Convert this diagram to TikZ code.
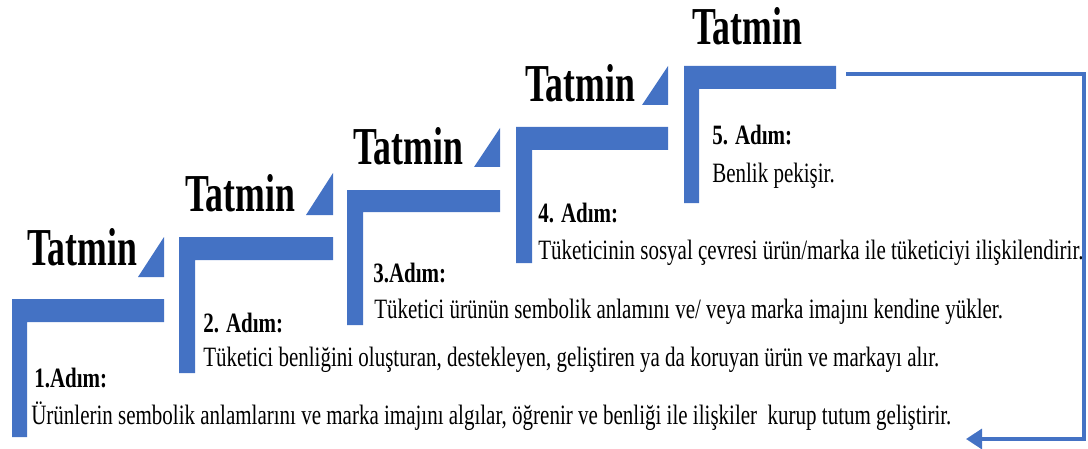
\documentclass[tikz,border=0pt]{standalone}
\usepackage{fontspec}
\setmainfont{Liberation Serif}[FakeStretch=0.75]
\newfontfamily\tatminfont{Liberation Serif}[FakeStretch=0.67]
\usetikzlibrary{arrows.meta}
\definecolor{adimmavi}{HTML}{4472C4}

\begin{document}
\begin{tikzpicture}[x=0.75pt,y=-0.75pt,line join=miter,>={Triangle[length=12pt,width=15pt]}]
	\tikzset{tatmin/.style={anchor=base west,inner sep=0pt,font=\tatminfont\bfseries\fontsize{40}{40}\selectfont},
		baslik/.style={anchor=base west,inner sep=0pt,font=\bfseries\fontsize{21}{21}\selectfont},
		aciklama/.style={anchor=base west,inner sep=0pt,font=\fontsize{21}{21}\selectfont},
		basamak/.style={fill=adimmavi}}
	\useasboundingbox (0,0) rectangle (1088,449);
	% basamak 1
	\fill[basamak] (12,299)--(164,299)--(164,322)--(27,322)--(27,437)--(12,437)--cycle;
	\fill[basamak] (164,237)--(164,277)--(138,277)--cycle;
	\node[tatmin] (t1) at (27,265) {Tatmin};
	\node[baslik] (a1) at (34,387) {1.Adım:};
	\node[aciklama] (b1) at (31,424) {Ürünlerin sembolik anlamlarını ve marka imajını algılar, öğrenir ve benliği ile ilişkiler\ \ kurup tutum geliştirir.};
	% basamak 2
	\fill[basamak] (179,237)--(333,237)--(333,260)--(195,260)--(195,373)--(179,373)--cycle;
	\fill[basamak] (333,173)--(333,215)--(306,215)--cycle;
	\node[tatmin] (t2) at (185,211) {Tatmin};
	\node[baslik] (a2) at (203,332) {2. Adım:};
	\node[aciklama] (b2) at (203,366) {Tüketici benliğini oluşturan, destekleyen, geliştiren ya da koruyan ürün ve markayı alır.};
	% basamak 3
	\fill[basamak] (347,190)--(500,190)--(500,212)--(363,212)--(363,325)--(347,325)--cycle;
	\fill[basamak] (500,128)--(500,167)--(474,167)--cycle;
	\node[tatmin] (t3) at (353,165) {Tatmin};
	\node[baslik] (a3) at (373,282) {3.Adım:};
	\node[aciklama] (b3) at (374,318) {Tüketici ürünün sembolik anlamını ve/ veya marka imajını kendine yükler.};
	% basamak 4
	\fill[basamak] (516,127)--(668,127)--(668,150)--(532,150)--(532,263)--(516,263)--cycle;
	\fill[basamak] (668,66)--(668,105)--(642,105)--cycle;
	\node[tatmin] (t4) at (525,102) {Tatmin};
	\node[baslik] (a4) at (538,222) {4. Adım:};
	\node[aciklama] (b4) at (538,259) {Tüketicinin sosyal çevresi ürün/marka ile tüketiciyi ilişkilendirir.};
	% basamak 5
	\fill[basamak] (684,66)--(836,66)--(836,89)--(699,89)--(699,203)--(684,203)--cycle;
	\node[tatmin] (t5) at (692,45) {Tatmin};
	\node[baslik] (a5) at (712,145) {5. Adım:};
	\node[aciklama] (b5) at (712,182) {Benlik pekişir.};
	% geri donus oku
	\coordinate (d5) at (846,74);
	\coordinate (geri) at (966,439);
	\draw[adimmavi,line width=2.4pt,->] (d5)--(1084,74)--(1084,439)--(geri);
\end{tikzpicture}
\end{document}
